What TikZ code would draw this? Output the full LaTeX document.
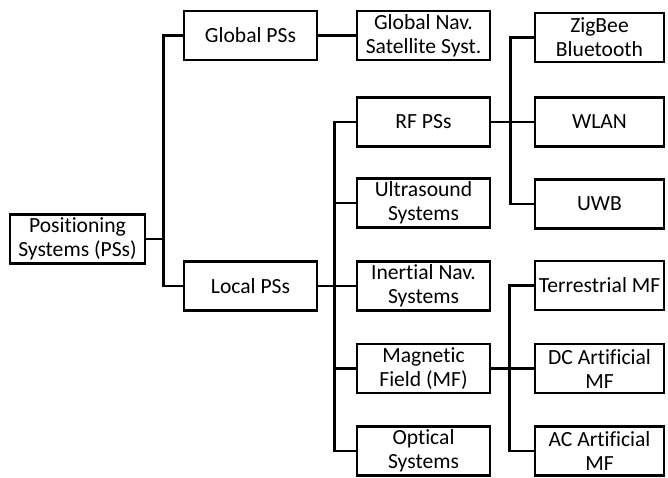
\documentclass[tikz,border=0pt]{standalone}
\usepackage{fontspec}
\setmainfont{Carlito}[Ligatures={NoCommon}]
\tikzset{
  sysbox/.style={draw, line width=2.5pt, align=center, inner sep=0pt,
    minimum width=133pt, minimum height=49pt,
    font=\fontsize{21.6}{24}\selectfont},
  link/.style={line width=2.5pt}
}
\begin{document}
\begin{tikzpicture}[x=1pt,y=-1pt]
      \useasboundingbox (0,0) rectangle (668,477);
      % ROOT
      \node[sysbox, minimum width=135pt] (pss) at (77.5,239) {Positioning\\Systems (PSs)};

      % SECOND LEVEL
      \node[sysbox] (global) at (250.5,35.5) {Global PSs};
      \node[sysbox] (local)  at (250.5,286)  {Local PSs};

      % THIRD LEVEL
      \node[sysbox] (gnss)  at (423.5,35.5) {Global Nav.\\Satellite Syst.};
      \node[sysbox] (rf)    at (423.5,122)  {RF PSs};
      \node[sysbox] (us)    at (423.5,203)  {Ultrasound\\Systems};
      \node[sysbox] (ins)   at (423.5,286)  {Inertial Nav.\\Systems};
      \node[sysbox] (mf)    at (423.5,368.5) {Magnetic\\Field (MF)};
      \node[sysbox] (opt)   at (423.5,451)  {Optical\\Systems};

      % FOURTH LEVEL
      \node[sysbox, minimum width=129pt] (zig)  at (599.5,37.5) {ZigBee\\Bluetooth};
      \node[sysbox, minimum width=129pt] (wlan) at (599.5,122)  {WLAN};
      \node[sysbox, minimum width=129pt] (uwb)  at (599.5,204)  {UWB};
      \node[sysbox, minimum width=129pt] (tmf)  at (599.5,285.5) {Terrestrial MF};
      \node[sysbox, minimum width=129pt] (dcmf) at (599.5,368.5) {DC Artificial\\MF};
      \node[sysbox, minimum width=129pt] (acmf) at (599.5,451)  {AC Artificial\\MF};

      % LINKS
      \draw[link] (pss.east) -- ++(17,0) |- (global.west);
      \draw[link] (pss.east) -- ++(17,0) |- (local.west);
      \draw[link] (global) -- (gnss);

      \draw[link] (local.east) -- ++(16,0) |- (rf.west);
      \draw[link] (local.east) -- ++(16,0) |- (us.west);
      \draw[link] (local.east) -- (ins.west);
      \draw[link] (local.east) -- ++(16,0) |- (mf.west);
      \draw[link] (local.east) -- ++(16,0) |- (opt.west);

      \draw[link] (rf.east) -- ++(19,0) |- (zig.west);
      \draw[link] (rf.east) -- (wlan.west);
      \draw[link] (rf.east) -- ++(19,0) |- (uwb.west);

      \draw[link] (mf.east) -- ++(18,0) |- (tmf.west);
      \draw[link] (mf.east) -- (dcmf.west);
      \draw[link] (mf.east) -- ++(18,0) |- (acmf.west);
\end{tikzpicture}
\end{document}
